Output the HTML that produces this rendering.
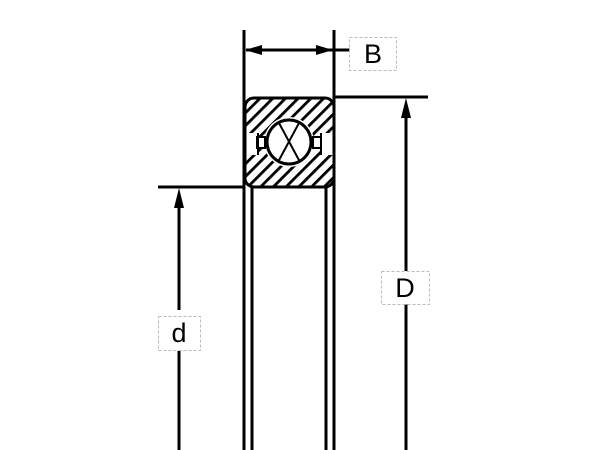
<!DOCTYPE html>
<html><head><style>html,body{margin:0;padding:0;background:#fff;}svg{display:block}</style></head>
<body>
<svg width="600" height="450" viewBox="0 0 600 450" xmlns="http://www.w3.org/2000/svg">
<defs>
<pattern id="h" patternUnits="userSpaceOnUse" width="9" height="9" patternTransform="rotate(45)">
<rect width="9" height="9" fill="#fff"/>
<rect x="0" y="0" width="2.8" height="9" fill="#000"/>
</pattern>
<clipPath id="c"><rect x="245" y="98" width="89" height="89" rx="9"/></clipPath>
</defs>
<g clip-path="url(#c)">
<rect x="244" y="97" width="91" height="91" fill="url(#h)"/>
<rect x="245" y="133" width="13" height="22" fill="#fff"/>
<rect x="321" y="133" width="13" height="22" fill="#fff"/>
<circle cx="289" cy="142" r="25" fill="#fff"/>
<rect x="257" y="137" width="8" height="11" fill="#fff" stroke="#000" stroke-width="2"/>
<rect x="313" y="137" width="8" height="11" fill="#fff" stroke="#000" stroke-width="2"/>
<line x1="258" y1="133" x2="258" y2="155" stroke="#000" stroke-width="2"/>
<line x1="321" y1="133" x2="321" y2="155" stroke="#000" stroke-width="2"/>
<circle cx="289" cy="142" r="22" fill="#fff" stroke="#000" stroke-width="3"/>
<line x1="279" y1="123" x2="300" y2="162" stroke="#000" stroke-width="2"/>
<line x1="299" y1="123" x2="278" y2="162" stroke="#000" stroke-width="2"/>
</g>
<rect x="245" y="98" width="89" height="89" rx="9" fill="none" stroke="#000" stroke-width="3"/>
<g stroke="#000" stroke-width="3" fill="none">
<line x1="244" y1="30" x2="244" y2="450"/>
<line x1="334" y1="30" x2="334" y2="450"/>
<line x1="252" y1="187" x2="252" y2="450"/>
<line x1="326" y1="187" x2="326" y2="450"/>
<line x1="334" y1="97" x2="428" y2="97"/>
<line x1="158" y1="187" x2="244" y2="187"/>
<line x1="246" y1="50" x2="356" y2="50"/>
<line x1="406" y1="110" x2="406" y2="271"/>
<line x1="406" y1="304" x2="406" y2="450"/>
<line x1="179" y1="200" x2="179" y2="310"/>
<line x1="179" y1="351" x2="179" y2="450"/>
</g>
<g fill="#000">
<polygon points="245,50 262,45 262,55"/>
<polygon points="333,50 316,45 316,55"/>
<polygon points="406,98 401,118 411,118"/>
<polygon points="179,188 174,208 184,208"/>
</g>
<g fill="#fff" stroke="#bbb" stroke-width="1" stroke-dasharray="3,2">
<rect x="349.5" y="37.5" width="47" height="33"/>
<rect x="381.5" y="271.5" width="48" height="33"/>
<rect x="158.5" y="316.5" width="42" height="34"/>
</g>
<g font-family="Liberation Sans, sans-serif" font-size="27" fill="#000" text-anchor="middle">
<text x="373" y="63">B</text>
<text x="405" y="297">D</text>
<text x="179" y="342">d</text>
</g>
</svg>
</body></html>
